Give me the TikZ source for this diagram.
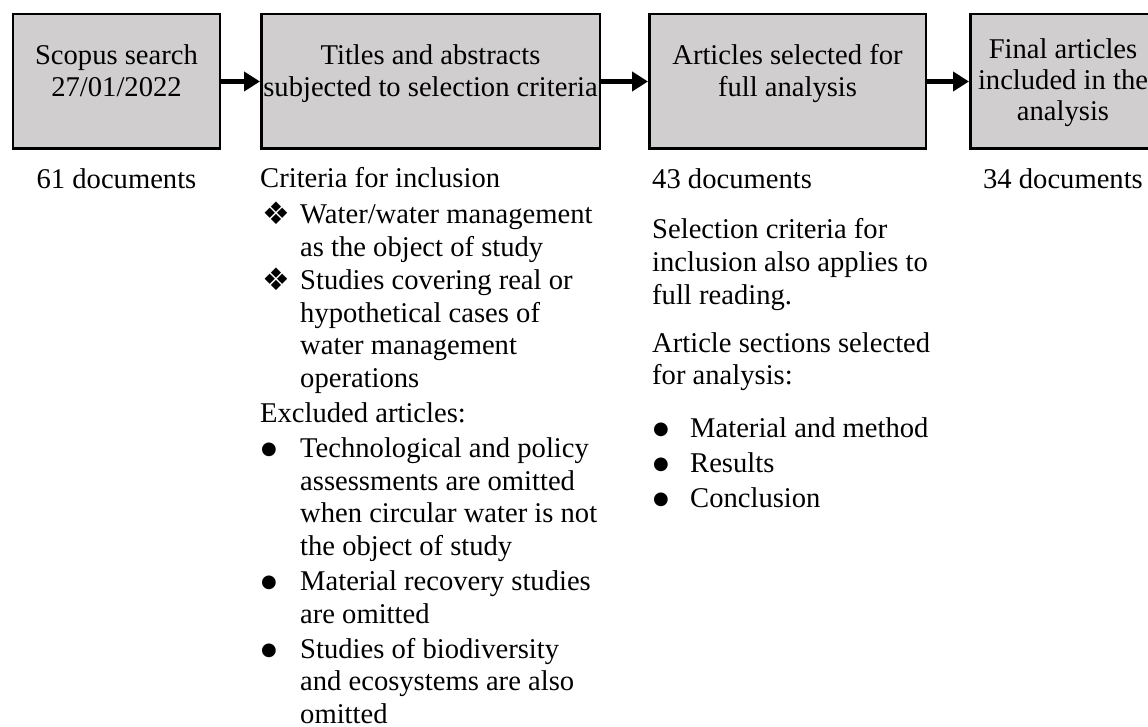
\documentclass[tikz,border=0pt]{standalone}
\usepackage{fontspec}
\setmainfont{Liberation Serif}
\newfontfamily\dingfont{DejaVu Sans}
\usetikzlibrary{arrows.meta}
\definecolor{stagefill}{RGB}{208,206,206}
% list markers
\newcommand{\diabullet}{\hspace*{2pt}\raisebox{-1pt}[19pt][0pt]{\dingfont\fontsize{31}{31}\selectfont\char"2756}}
\newcommand{\dotbullet}{\hspace*{1pt}\raisebox{3pt}{\dingfont\fontsize{18}{18}\selectfont\char"25CF}}

\begin{document}
\begin{tikzpicture}[x=1pt,y=-1pt,
  stagebox/.style={draw=black, line width=2.5pt, fill=stagefill, inner sep=0pt,
                   minimum height=134.5pt},
  bodytext/.style={font=\fontsize{28.6}{32.8}\selectfont, inner sep=0pt, text=black},
  boxtext/.style={font=\fontsize{28.6}{32}\selectfont, inner sep=0pt, text=black, anchor=base},
  flow/.style={line width=4.5pt, -{Triangle[length=16pt,width=19pt]}}]
\useasboundingbox (0,0) rectangle (1148,727);
\fill[white] (0,0) rectangle (1148,727);

% stages
\node[stagebox, minimum width=207pt]   (b1) at (116.5,81.5) {};
\node[stagebox, minimum width=338.5pt] (b2) at (430.5,81.5) {};
\node[stagebox, minimum width=276.5pt] (b3) at (787.5,81.5) {};
\node[stagebox, minimum width=185.5pt] (b4) at (1063,81.5) {};

\node[boxtext] (t1) at (116.5,65) {\begin{tabular}[t]{@{}c@{}}Scopus search\\27/01/2022\end{tabular}};
\node[boxtext] (t2) at (430.5,65) {\begin{tabular}[t]{@{}c@{}}Titles and abstracts\\subjected to selection criteria\end{tabular}};
\node[boxtext] (t3) at (787.5,65) {\begin{tabular}[t]{@{}c@{}}Articles selected for\\full analysis\end{tabular}};
\node[boxtext, font=\fontsize{28.6}{31}\selectfont] (t4) at (1063,59) {\begin{tabular}[t]{@{}c@{}}Final articles\\included in the\\analysis\end{tabular}};

% flow between stages
\draw[flow] (b1.east) -- (b2.west);
\draw[flow] (b2.east) -- (b3.west);
\draw[flow] (b3.east) -- (b4.west);

% document counts
\node[bodytext, anchor=base] (d1) at (116.5,189) {61 documents};
\node[bodytext, anchor=base] (d4) at (1063,189) {34 documents};

% screening criteria
\node[bodytext, anchor=base west] (incl) at (260,188) {\begin{tabular}[t]{@{}p{40pt}@{}l@{}}
\multicolumn{2}{@{}l@{}}{Criteria for inclusion}\\[3pt]
\diabullet & Water/water management\\
 & as the object of study\\
\diabullet & Studies covering real or\\
 & hypothetical cases of\\
 & water management\\
 & operations\\[2pt]
\multicolumn{2}{@{}l@{}}{Excluded articles:}\\[2pt]
\dotbullet & Technological and policy\\
 & assessments are omitted\\
 & when circular water is not\\
 & the object of study\\[2pt]
\dotbullet & Material recovery studies\\
 & are omitted\\[2pt]
\dotbullet & Studies of biodiversity\\
 & and ecosystems are also\\
 & omitted
\end{tabular}};

% full reading
\node[bodytext, anchor=base west] (full) at (652,189) {\begin{tabular}[t]{@{}p{38pt}@{}l@{}}
\multicolumn{2}{@{}l@{}}{43 documents}\\[17pt]
\multicolumn{2}{@{}l@{}}{Selection criteria for}\\
\multicolumn{2}{@{}l@{}}{inclusion also applies to}\\
\multicolumn{2}{@{}l@{}}{full reading.}\\[15pt]
\multicolumn{2}{@{}l@{}}{Article sections selected}\\
\multicolumn{2}{@{}l@{}}{for analysis:}\\[20pt]
\dotbullet & Material and method\\[2pt]
\dotbullet & Results\\[2pt]
\dotbullet & Conclusion
\end{tabular}};
\end{tikzpicture}
\end{document}
